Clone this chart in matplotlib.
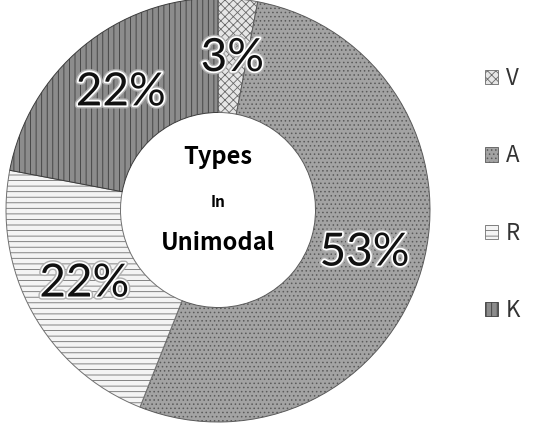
import matplotlib

matplotlib.use("Agg")
import matplotlib.pyplot as plt
import matplotlib.patheffects as pe
from matplotlib.patches import Patch

labels = ["V", "A", "R", "K"]
shares = [3, 53, 22, 22]
faces = ["#e6e6e6", "#a3a3a3", "#f4f4f4", "#8c8c8c"]
hatch_edges = ["#6a6a6a", "#5a5a5a", "#707070", "#3c3c3c"]
hatches = ["xxxx", "....", "---", "|||"]

plt.rcParams["font.family"] = ["Noto Sans CJK KR", "DejaVu Sans"]
plt.rcParams["hatch.linewidth"] = 0.6

fig = plt.figure(figsize=(5.34, 4.23), dpi=100)
# donut centre ~ (218, 210) px, outer radius ~212 px
ax = fig.add_axes([6 / 534, 1 / 423, 424 / 534, 424 / 423])
wedges, _, pcts = ax.pie(
    shares, startangle=90, counterclock=False, radius=1.0,
    autopct=lambda p: f"{round(p)}%", pctdistance=0.72,
    wedgeprops=dict(width=0.54, linewidth=0.7),
    textprops=dict(fontsize=33, color="#111111", family="Lato", fontweight="normal"),
)
for w, fc, ec, h in zip(wedges, faces, hatch_edges, hatches):
    w.set_facecolor(fc)
    w.set_edgecolor(ec)
    w.set_hatch(h)
for t in pcts:
    t.set_path_effects([pe.withStroke(linewidth=4.5, foreground="#b0b0b0"),
                        pe.withStroke(linewidth=2.5, foreground="white")])

ax.set_xlim(-1, 1)
ax.set_ylim(-1, 1)
ax.set_aspect("equal")
ax.axis("off")

ax.text(0, 0.25, "Types", ha="center", va="center", fontsize=17, fontweight="bold")
ax.text(0, 0.04, "In", ha="center", va="center", fontsize=11, fontweight="bold")
ax.text(0, -0.155, "Unimodal", ha="center", va="center", fontsize=17, fontweight="bold")

handles = [Patch(facecolor=fc, edgecolor=ec, hatch=h, linewidth=0.6)
           for fc, ec, h in zip(faces, hatch_edges, hatches)]
fig.legend(handles, labels, loc="upper left", bbox_to_anchor=(476 / 534, 1 - 58 / 423),
           frameon=False, fontsize=16, handlelength=0.6, handleheight=0.6,
           handletextpad=0.35, labelspacing=2.45, borderaxespad=0,
           labelcolor="#333333")

fig.savefig("out.png", dpi=100)
